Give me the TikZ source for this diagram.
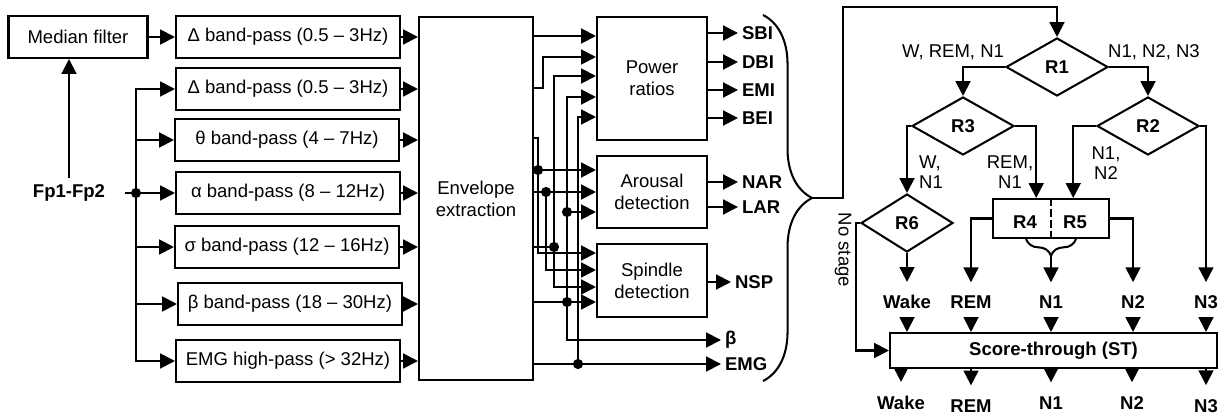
\documentclass[tikz,border=0pt]{standalone}
\usepackage{fontspec}
\setmainfont{Liberation Sans}
\usepackage{tikz}
\usetikzlibrary{shapes.geometric, arrows.meta, positioning, calc, decorations.pathreplacing}
\newcommand{\pxlen}{0.54pt}
\tikzset{
  % Processing blocks
  block/.style={draw, line width=1.1pt, align=center, inner sep=0pt},
  bandbox/.style={block, minimum width=224*\pxlen, minimum height=42*\pxlen},
  featbox/.style={block, minimum width=110*\pxlen},
  decision/.style={diamond, draw, line width=1.1pt, inner sep=0pt, font=\bfseries,
    minimum width=102*\pxlen, minimum height=58*\pxlen},
  % Labels
  outlabel/.style={font=\bfseries, anchor=west, inner sep=2pt},
  stagelabel/.style={font=\bfseries, inner sep=0pt},
  branchlabel/.style={align=center, inner sep=0pt, font=\fontsize{10}{10.5}\selectfont},
  % Pointers
  wire/.style={line width=1.1pt},
  flowpointer/.style={-{Triangle[length=8pt, width=8pt]}, line width=1.1pt},
  junction/.style={circle, fill, inner sep=0pt, minimum size=5.5pt},
  bigbrace/.style={decorate, decoration={brace, amplitude=#1}, line width=1.1pt},
  bigbrace/.default=26pt,
}

\begin{document}
\begin{tikzpicture}[x=0.54pt, y=-0.54pt]
  \useasboundingbox (0,0) rectangle (1219,414);

  % Define filter nodes
  \node[block, minimum width=139*\pxlen, minimum height=42*\pxlen] (median) at (78,37) {Median filter};
  \node[bandbox] (d1) at (288,37) {Δ band-pass (0.5 – 3Hz)};
  \node[bandbox] (d2) at (288,89) {Δ band-pass (0.5 – 3Hz)};
  \node[bandbox] (theta) at (287,140) {θ band-pass (4 – 7Hz)};
  \node[bandbox] (alpha) at (288,193) {α band-pass (8 – 12Hz)};
  \node[bandbox] (sigma) at (287,247) {σ band-pass (12 – 16Hz)};
  \node[bandbox] (beta) at (290,304) {β band-pass (18 – 30Hz)};
  \node[bandbox] (emg) at (288,361) {EMG high-pass (> 32Hz)};

  \node[font=\bfseries] (fp) at (69,193) {Fp1-Fp2};
  \node[junction] (jfp) at (136,193) {};

  % Envelope and feature blocks
  \node[block, minimum width=114*\pxlen, minimum height=363*\pxlen] (env) at (476,198.5) {Envelope\\extraction};
  \node[featbox, minimum height=123*\pxlen] (power) at (652,78.5) {Power\\ratios};
  \node[featbox, minimum height=72*\pxlen] (arousal) at (652,192) {Arousal\\detection};
  \node[featbox, minimum height=73*\pxlen] (spindle) at (652,280.5) {Spindle\\detection};

  % Feature outputs
  \node[outlabel] (sbi) at (738,33) {SBI};
  \node[outlabel] (dbi) at (738,62) {DBI};
  \node[outlabel] (emi) at (738,90) {EMI};
  \node[outlabel] (bei) at (738,118) {BEI};
  \node[outlabel] (nar) at (738,182) {NAR};
  \node[outlabel] (lar) at (738,207) {LAR};
  \node[outlabel] (nsp) at (731,282) {NSP};
  \node[outlabel] (betaout) at (721,340) {β};
  \node[outlabel] (emgout) at (721,364) {EMG};

  % Input side
  \draw[flowpointer] (fp.north) -- (fp.north |- median.south);
  \draw[wire, shorten <=7pt] (fp.east) -- (jfp.center);
  \draw[flowpointer] (median.east) -- (median.east -| d1.west);
  \draw[flowpointer] (jfp.center) |- (d2.west);
  \draw[flowpointer] (jfp.center) |- (theta.west);
  \draw[flowpointer] (jfp.center) -- (alpha.west);
  \draw[flowpointer] (jfp.center) |- (sigma.west);
  \draw[flowpointer] (jfp.center) |- (beta.west);
  \draw[flowpointer] (jfp.center) |- (emg.west);

  \draw[flowpointer] (d1.east) -- (d1.east -| env.west);
  \draw[flowpointer] (d2.east) -- (d2.east -| env.west);
  \draw[flowpointer] (theta.east) -- (theta.east -| env.west);
  \draw[flowpointer] (alpha.east) -- (alpha.east -| env.west);
  \draw[flowpointer] (sigma.east) -- (sigma.east -| env.west);
  \draw[flowpointer] (beta.east) -- (beta.east -| env.west);
  \draw[flowpointer] (emg.east) -- (emg.east -| env.west);

  % Envelope ports and feature inputs
  \coordinate (e1) at (env.east |- 0,36);
  \coordinate (e2) at (env.east |- 0,88);
  \coordinate (e3) at (env.east |- 0,138);
  \coordinate (e4) at (env.east |- 0,192);
  \coordinate (e5) at (env.east |- 0,247);
  \coordinate (e6) at (env.east |- 0,302);
  \coordinate (e7) at (env.east |- 0,364);
  \coordinate (pr1) at (power.west |- 0,36);
  \coordinate (pr2) at (power.west |- 0,57);
  \coordinate (pr3) at (power.west |- 0,76);
  \coordinate (pr4) at (power.west |- 0,97);
  \coordinate (pr5) at (power.west |- 0,117);
  \coordinate (ar1) at (arousal.west |- 0,170);
  \coordinate (ar2) at (arousal.west |- 0,192);
  \coordinate (ar3) at (arousal.west |- 0,212);
  \coordinate (sp1) at (spindle.west |- 0,253);
  \coordinate (sp2) at (spindle.west |- 0,270);
  \coordinate (sp3) at (spindle.west |- 0,287);
  \coordinate (sp4) at (spindle.west |- 0,302);

  \node[junction] (jtheta) at (538,170) {};
  \node[junction] (jalpha) at (546,192) {};
  \node[junction] (jsigma) at (554,247) {};
  \node[junction] (jbetaar) at (567,212) {};
  \node[junction] (jbeta) at (567,302) {};
  \node[junction] (jemg) at (578,364) {};

  \draw[flowpointer] (e1) -- (pr1);
  \draw[flowpointer] (e2) -| (543,57) -- (pr2);
  \draw[wire] (e3) -| (jtheta.center);
  \draw[flowpointer] (jtheta.center) -- (ar1);
  \draw[flowpointer] (jtheta.center) |- (sp1);
  \draw[flowpointer] (e4) -- (ar2);
  \draw[flowpointer] (jalpha.center) |- (sp2);
  \draw[wire] (e5) -- (jsigma.center);
  \draw[flowpointer] (jsigma.center) |- (pr3);
  \draw[flowpointer] (jsigma.center) |- (sp3);
  \draw[flowpointer] (e6) -- (sp4);
  \draw[flowpointer] (jbeta.center) |- (pr4);
  \draw[flowpointer] (jbetaar.center) -- (ar3);
  \draw[flowpointer] (jbeta.center) |- (betaout.west);
  \draw[flowpointer] (e7) -- (emgout.west);
  \draw[flowpointer] (jemg.center) |- (pr5);

  \draw[flowpointer] (power.east |- sbi.west) -- (sbi.west);
  \draw[flowpointer] (power.east |- dbi.west) -- (dbi.west);
  \draw[flowpointer] (power.east |- emi.west) -- (emi.west);
  \draw[flowpointer] (power.east |- bei.west) -- (bei.west);
  \draw[flowpointer] (arousal.east |- nar.west) -- (nar.west);
  \draw[flowpointer] (arousal.east |- lar.west) -- (lar.west);
  \draw[flowpointer] (spindle.east |- nsp.west) -- (nsp.west);

  % Brace into the rule tree
  \draw[bigbrace=26.5pt] (763,15) -- (763,381);
  \coordinate (bracetip) at (812,198);

  % Rule tree
  \node[decision] (R1) at (1057,67) {R1};
  \node[decision] (R3) at (963,126) {R3};
  \node[decision] (R2) at (1148,126) {R2};
  \node[decision, minimum width=92*\pxlen] (R6) at (907,223) {R6};
  \node[block, minimum width=116*\pxlen, minimum height=39*\pxlen] (r45) at (1051,218.5) {};
  \node[font=\bfseries] (r4) at (1025,222) {R4};
  \node[font=\bfseries] (r5) at (1075,222) {R5};
  \draw[line width=0.8pt, dash pattern=on 4.3pt off 1.6pt] (r45.north) -- (r45.south);
  \node[block, font=\bfseries, minimum width=327*\pxlen, minimum height=35*\pxlen] (st) at (1053.5,350.5) {Score-through (ST)};

  \node[branchlabel] (lr1l) at (953,52) {W, REM, N1};
  \node[branchlabel] (lr1r) at (1154,52) {N1, N2, N3};
  \node[branchlabel, align=left] (lr3l) at (931,172) {W,\\N1};
  \node[branchlabel] (lr3r) at (1010,172) {REM,\\N1};
  \node[branchlabel] (lr2l) at (1106,163) {N1,\\N2};
  \node[branchlabel, rotate=-90] (nostage) at (843,250) {No stage};

  % Stage labels
  \node[stagelabel] (wakeA) at (907,302) {Wake};
  \node[stagelabel] (remA) at (971,302) {REM};
  \node[stagelabel] (n1A) at (1051,302) {N1};
  \node[stagelabel] (n2A) at (1133,302) {N2};
  \node[stagelabel] (n3A) at (1206,302) {N3};
  \node[stagelabel] (wakeB) at (901,403) {Wake};
  \node[stagelabel] (remB) at (971,406) {REM};
  \node[stagelabel] (n1B) at (1051,403) {N1};
  \node[stagelabel] (n2B) at (1132,403) {N2};
  \node[stagelabel] (n3B) at (1206,406) {N3};

  \draw[flowpointer] (bracetip) -| (843,7) -| (R1.north);
  \draw[flowpointer] (R1.west) -| (R3.north);
  \draw[flowpointer] (R1.east) -| (R2.north);
  \draw[flowpointer] (R3.west) -| (R6.north);
  \draw[flowpointer] (R3.east) -| ([xshift=-8pt]r45.north);
  \draw[flowpointer] (R2.west) -| ([xshift=12pt]r45.north);
  \draw[flowpointer, shorten >=7pt] (R2.east) -| (n3A);
  \draw[flowpointer, shorten >=7pt] (R6.south) -- (wakeA);
  \draw[flowpointer, shorten >=7pt] (r45.west) -| (remA);
  \draw[flowpointer, shorten >=7pt] (r45.east) -| (n2A);
  \draw[bigbrace=9pt] ([xshift=13.5pt]r45.south) -- ([xshift=-13.5pt]r45.south);
  \coordinate (r45tip) at ([yshift=-9pt]r45.south);
  \draw[flowpointer, shorten >=7pt] (r45tip) -- (n1A);
  \draw[flowpointer] (R6.west) -- ++(-4,0) |- (st.west);

  \draw[flowpointer, shorten <=6pt] (wakeA) -- (wakeA |- st.north);
  \draw[flowpointer, shorten <=6pt] (remA) -- (remA |- st.north);
  \draw[flowpointer, shorten <=6pt] (n1A) -- (n1A |- st.north);
  \draw[flowpointer, shorten <=6pt] (n2A) -- (n2A |- st.north);
  \draw[flowpointer, shorten <=6pt] (n3A) -- (n3A |- st.north);
  \draw[flowpointer, shorten >=7.5pt] (st.south -| wakeB) -- (wakeB);
  \draw[flowpointer, shorten >=7.5pt] (st.south -| remB) -- (remB);
  \draw[flowpointer, shorten >=7.5pt] (st.south -| n1B) -- (n1B);
  \draw[flowpointer, shorten >=7.5pt] (st.south -| n2B) -- (n2B);
  \draw[flowpointer, shorten >=7.5pt] (st.south -| n3B) -- (n3B);

\end{tikzpicture}
\end{document}
